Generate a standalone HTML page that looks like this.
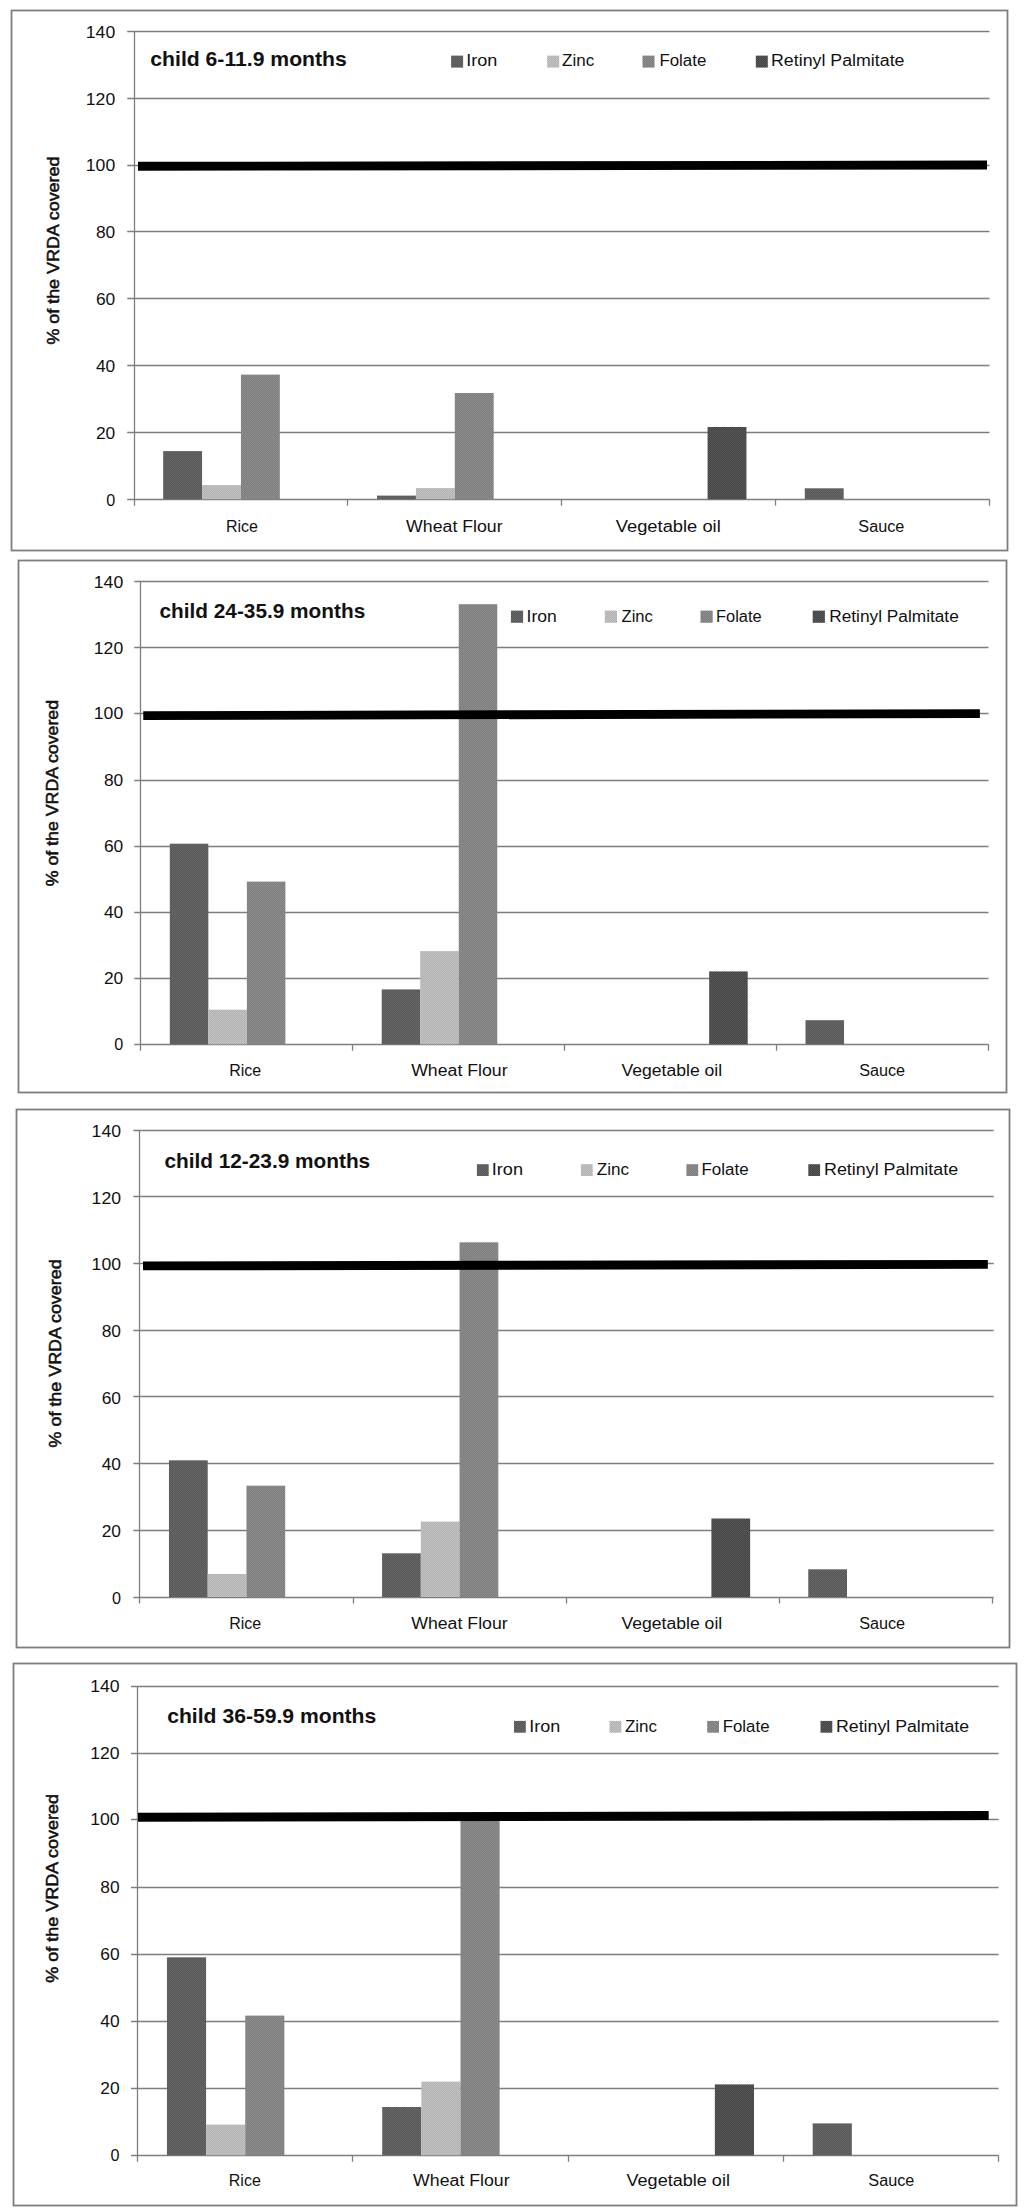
<!DOCTYPE html>
<html lang="en"><head><meta charset="utf-8"><title>% of the VRDA covered by fortified foods</title>
<style>
html,body{margin:0;padding:0;background:#fff}
body{width:1024px;height:2212px;overflow:hidden}
svg{display:block}
text{font-family:"Liberation Sans",sans-serif;fill:#111}
.r{font-size:15.8px}
.n{font-size:16px}
.t{font-size:19.8px;font-weight:bold}
.a{font-size:17px;stroke:#111;stroke-width:0.55px}
.g{stroke:#7e7e7e;stroke-width:1.3;fill:none}
.fr{stroke:#7e7e7e;stroke-width:1.8;fill:#fff}
</style></head><body>
<svg width="1024" height="2212" viewBox="0 0 1024 2212">
<rect x="0" y="0" width="1024" height="2212" fill="#fff"/>
<defs>
<pattern id="p-iron" width="2" height="2" patternUnits="userSpaceOnUse"><rect width="2" height="2" fill="#585858"/><rect x="0" y="0" width="1" height="1" fill="#666666"/><rect x="1" y="1" width="1" height="1" fill="#666666"/></pattern>
<pattern id="p-zinc" width="2" height="2" patternUnits="userSpaceOnUse"><rect width="2" height="2" fill="#b1b1b1"/><rect x="0" y="0" width="1" height="1" fill="#c3c3c3"/><rect x="1" y="1" width="1" height="1" fill="#c3c3c3"/></pattern>
<pattern id="p-folate" width="2" height="2" patternUnits="userSpaceOnUse"><rect width="2" height="2" fill="#7e7e7e"/><rect x="0" y="0" width="1" height="1" fill="#8c8c8c"/><rect x="1" y="1" width="1" height="1" fill="#8c8c8c"/></pattern>
<pattern id="p-rp" width="2" height="2" patternUnits="userSpaceOnUse"><rect width="2" height="2" fill="#434343"/><rect x="0" y="0" width="1" height="1" fill="#585858"/><rect x="1" y="1" width="1" height="1" fill="#585858"/></pattern>
</defs>
<g id="chart1">
<rect class="fr" x="11.5" y="10.5" width="996" height="540"/>
<line class="g" x1="127.2" y1="499.5" x2="989.5" y2="499.5"/>
<text class="n" x="115.2" y="505.5" text-anchor="end" textLength="9" lengthAdjust="spacingAndGlyphs">0</text>
<line class="g" x1="127.2" y1="432.5" x2="989.5" y2="432.5"/>
<text class="n" x="115.2" y="438.67" text-anchor="end" textLength="19.3" lengthAdjust="spacingAndGlyphs">20</text>
<line class="g" x1="127.2" y1="365.5" x2="989.5" y2="365.5"/>
<text class="n" x="115.2" y="371.84" text-anchor="end" textLength="19.3" lengthAdjust="spacingAndGlyphs">40</text>
<line class="g" x1="127.2" y1="298.5" x2="989.5" y2="298.5"/>
<text class="n" x="115.2" y="305.01" text-anchor="end" textLength="19.3" lengthAdjust="spacingAndGlyphs">60</text>
<line class="g" x1="127.2" y1="231.5" x2="989.5" y2="231.5"/>
<text class="n" x="115.2" y="238.19" text-anchor="end" textLength="19.3" lengthAdjust="spacingAndGlyphs">80</text>
<line class="g" x1="127.2" y1="165.5" x2="989.5" y2="165.5"/>
<text class="n" x="115.2" y="171.36" text-anchor="end" textLength="29.4" lengthAdjust="spacingAndGlyphs">100</text>
<line class="g" x1="127.2" y1="98.5" x2="989.5" y2="98.5"/>
<text class="n" x="115.2" y="104.53" text-anchor="end" textLength="29.4" lengthAdjust="spacingAndGlyphs">120</text>
<line class="g" x1="127.2" y1="31.5" x2="989.5" y2="31.5"/>
<text class="n" x="115.2" y="37.7" text-anchor="end" textLength="29.4" lengthAdjust="spacingAndGlyphs">140</text>
<line class="g" x1="134.5" y1="31.4" x2="134.5" y2="505.7"/>
<line class="g" x1="347.5" y1="499.2" x2="347.5" y2="505.7"/>
<line class="g" x1="561.5" y1="499.2" x2="561.5" y2="505.7"/>
<line class="g" x1="775.5" y1="499.2" x2="775.5" y2="505.7"/>
<line class="g" x1="989.5" y1="499.2" x2="989.5" y2="505.7"/>
<rect x="163.16" y="451.1" width="38.89" height="48.1" fill="url(#p-iron)"/>
<rect x="202.05" y="485.1" width="38.89" height="14.1" fill="url(#p-zinc)"/>
<rect x="240.94" y="374.6" width="38.89" height="124.6" fill="url(#p-folate)"/>
<rect x="377.04" y="495.6" width="38.89" height="3.6" fill="url(#p-iron)"/>
<rect x="415.93" y="488.1" width="38.89" height="11.1" fill="url(#p-zinc)"/>
<rect x="454.81" y="393" width="38.89" height="106.2" fill="url(#p-folate)"/>
<rect x="707.57" y="427" width="38.89" height="72.2" fill="url(#p-rp)"/>
<rect x="804.79" y="488.3" width="38.89" height="10.9" fill="url(#p-iron)"/>
<line x1="138" y1="166.3" x2="987" y2="165" stroke="#000" stroke-width="8.9"/>
<text class="t" x="150.3" y="66" textLength="196.5" lengthAdjust="spacingAndGlyphs">child 6-11.9 months</text>
<rect x="451.1" y="55.6" width="12" height="12" fill="url(#p-iron)"/>
<text class="r" x="466.2" y="66.4" textLength="31.11" lengthAdjust="spacingAndGlyphs">Iron</text>
<rect x="547.2" y="55.6" width="12" height="12" fill="url(#p-zinc)"/>
<text class="r" x="562" y="66.4" textLength="32.14" lengthAdjust="spacingAndGlyphs">Zinc</text>
<rect x="642.5" y="55.6" width="12" height="12" fill="url(#p-folate)"/>
<text class="r" x="659.4" y="66.4" textLength="46.97" lengthAdjust="spacingAndGlyphs">Folate</text>
<rect x="755.8" y="55.6" width="12" height="12" fill="url(#p-rp)"/>
<text class="r" x="771" y="66.4" textLength="133.49" lengthAdjust="spacingAndGlyphs">Retinyl Palmitate</text>
<text class="r" x="225.94" y="531.5" textLength="32" lengthAdjust="spacingAndGlyphs">Rice</text>
<text class="r" x="406.11" y="531.5" textLength="96.5" lengthAdjust="spacingAndGlyphs">Wheat Flour</text>
<text class="r" x="615.74" y="531.5" textLength="105" lengthAdjust="spacingAndGlyphs">Vegetable oil</text>
<text class="r" x="858.36" y="531.5" textLength="46" lengthAdjust="spacingAndGlyphs">Sauce</text>
<text class="a" transform="translate(59 344.6) rotate(-90)" x="0" y="0" textLength="188" lengthAdjust="spacingAndGlyphs">% of the VRDA covered</text>
</g>
<g id="chart2">
<rect class="fr" x="18.5" y="560.5" width="988" height="532"/>
<line class="g" x1="134.3" y1="1044.5" x2="988.5" y2="1044.5"/>
<text class="n" x="123.2" y="1050.1" text-anchor="end" textLength="9" lengthAdjust="spacingAndGlyphs">0</text>
<line class="g" x1="134.3" y1="978.5" x2="988.5" y2="978.5"/>
<text class="n" x="123.2" y="984.03" text-anchor="end" textLength="19.3" lengthAdjust="spacingAndGlyphs">20</text>
<line class="g" x1="134.3" y1="912.5" x2="988.5" y2="912.5"/>
<text class="n" x="123.2" y="917.96" text-anchor="end" textLength="19.3" lengthAdjust="spacingAndGlyphs">40</text>
<line class="g" x1="134.3" y1="846.5" x2="988.5" y2="846.5"/>
<text class="n" x="123.2" y="851.89" text-anchor="end" textLength="19.3" lengthAdjust="spacingAndGlyphs">60</text>
<line class="g" x1="134.3" y1="780.5" x2="988.5" y2="780.5"/>
<text class="n" x="123.2" y="785.81" text-anchor="end" textLength="19.3" lengthAdjust="spacingAndGlyphs">80</text>
<line class="g" x1="134.3" y1="713.5" x2="988.5" y2="713.5"/>
<text class="n" x="123.2" y="718.8" text-anchor="end" textLength="29.4" lengthAdjust="spacingAndGlyphs">100</text>
<line class="g" x1="134.3" y1="647.5" x2="988.5" y2="647.5"/>
<text class="n" x="123.2" y="653.67" text-anchor="end" textLength="29.4" lengthAdjust="spacingAndGlyphs">120</text>
<line class="g" x1="134.3" y1="581.5" x2="988.5" y2="581.5"/>
<text class="n" x="123.2" y="587.6" text-anchor="end" textLength="29.4" lengthAdjust="spacingAndGlyphs">140</text>
<line class="g" x1="140.5" y1="581.8" x2="140.5" y2="1050.8"/>
<line class="g" x1="352.5" y1="1044.3" x2="352.5" y2="1050.8"/>
<line class="g" x1="564.5" y1="1044.3" x2="564.5" y2="1050.8"/>
<line class="g" x1="776.5" y1="1044.3" x2="776.5" y2="1050.8"/>
<line class="g" x1="988.5" y1="1044.3" x2="988.5" y2="1050.8"/>
<rect x="169.8" y="843.7" width="38.53" height="200.6" fill="url(#p-iron)"/>
<rect x="208.32" y="1009.7" width="38.53" height="34.6" fill="url(#p-zinc)"/>
<rect x="246.85" y="881.6" width="38.53" height="162.7" fill="url(#p-folate)"/>
<rect x="381.7" y="989.4" width="38.53" height="54.9" fill="url(#p-iron)"/>
<rect x="420.22" y="951.1" width="38.53" height="93.2" fill="url(#p-zinc)"/>
<rect x="458.75" y="604.2" width="38.53" height="440.1" fill="url(#p-folate)"/>
<rect x="709.18" y="971.4" width="38.53" height="72.9" fill="url(#p-rp)"/>
<rect x="805.5" y="1020.2" width="38.53" height="24.1" fill="url(#p-iron)"/>
<line x1="143.25" y1="715.6" x2="979.9" y2="713.6" stroke="#000" stroke-width="8.8"/>
<text class="t" x="159.5" y="617.9" textLength="205.7" lengthAdjust="spacingAndGlyphs">child 24-35.9 months</text>
<rect x="510.9" y="610.6" width="12.2" height="12.2" fill="url(#p-iron)"/>
<text class="r" x="526.6" y="622.2" textLength="30.2" lengthAdjust="spacingAndGlyphs">Iron</text>
<rect x="604.8" y="610.6" width="12.2" height="12.2" fill="url(#p-zinc)"/>
<text class="r" x="621.6" y="622.2" textLength="31.2" lengthAdjust="spacingAndGlyphs">Zinc</text>
<rect x="700.5" y="610.6" width="12.2" height="12.2" fill="url(#p-folate)"/>
<text class="r" x="716" y="622.2" textLength="45.6" lengthAdjust="spacingAndGlyphs">Folate</text>
<rect x="812.7" y="610.6" width="12.2" height="12.2" fill="url(#p-rp)"/>
<text class="r" x="829.2" y="622.2" textLength="129.6" lengthAdjust="spacingAndGlyphs">Retinyl Palmitate</text>
<text class="r" x="229.2" y="1076.25" textLength="32" lengthAdjust="spacingAndGlyphs">Rice</text>
<text class="r" x="411.15" y="1076.25" textLength="96.5" lengthAdjust="spacingAndGlyphs">Wheat Flour</text>
<text class="r" x="621.4" y="1076.25" textLength="100.8" lengthAdjust="spacingAndGlyphs">Vegetable oil</text>
<text class="r" x="859.15" y="1076.25" textLength="46" lengthAdjust="spacingAndGlyphs">Sauce</text>
<text class="a" transform="translate(58.4 886.3) rotate(-90)" x="0" y="0" textLength="186.4" lengthAdjust="spacingAndGlyphs">% of the VRDA covered</text>
</g>
<g id="chart3">
<rect class="fr" x="16.5" y="1109.5" width="993" height="538"/>
<line class="g" x1="133.4" y1="1597.5" x2="993.7" y2="1597.5"/>
<text class="n" x="121" y="1603.6" text-anchor="end" textLength="9" lengthAdjust="spacingAndGlyphs">0</text>
<line class="g" x1="133.4" y1="1530.5" x2="993.7" y2="1530.5"/>
<text class="n" x="121" y="1536.93" text-anchor="end" textLength="19.3" lengthAdjust="spacingAndGlyphs">20</text>
<line class="g" x1="133.4" y1="1463.5" x2="993.7" y2="1463.5"/>
<text class="n" x="121" y="1470.26" text-anchor="end" textLength="19.3" lengthAdjust="spacingAndGlyphs">40</text>
<line class="g" x1="133.4" y1="1396.5" x2="993.7" y2="1396.5"/>
<text class="n" x="121" y="1403.59" text-anchor="end" textLength="19.3" lengthAdjust="spacingAndGlyphs">60</text>
<line class="g" x1="133.4" y1="1330.5" x2="993.7" y2="1330.5"/>
<text class="n" x="121" y="1336.91" text-anchor="end" textLength="19.3" lengthAdjust="spacingAndGlyphs">80</text>
<line class="g" x1="133.4" y1="1263.5" x2="993.7" y2="1263.5"/>
<text class="n" x="121" y="1270.24" text-anchor="end" textLength="29.4" lengthAdjust="spacingAndGlyphs">100</text>
<line class="g" x1="133.4" y1="1196.5" x2="993.7" y2="1196.5"/>
<text class="n" x="121" y="1203.57" text-anchor="end" textLength="29.4" lengthAdjust="spacingAndGlyphs">120</text>
<line class="g" x1="133.4" y1="1130.5" x2="993.7" y2="1130.5"/>
<text class="n" x="121" y="1136.9" text-anchor="end" textLength="29.4" lengthAdjust="spacingAndGlyphs">140</text>
<line class="g" x1="139.5" y1="1130.3" x2="139.5" y2="1603.5"/>
<line class="g" x1="353.5" y1="1597" x2="353.5" y2="1603.5"/>
<line class="g" x1="566.5" y1="1597" x2="566.5" y2="1603.5"/>
<line class="g" x1="779.5" y1="1597" x2="779.5" y2="1603.5"/>
<line class="g" x1="992.5" y1="1597" x2="992.5" y2="1603.5"/>
<rect x="168.96" y="1460.3" width="38.75" height="136.7" fill="url(#p-iron)"/>
<rect x="207.7" y="1574" width="38.75" height="23" fill="url(#p-zinc)"/>
<rect x="246.45" y="1485.7" width="38.75" height="111.3" fill="url(#p-folate)"/>
<rect x="382.06" y="1553.3" width="38.75" height="43.7" fill="url(#p-iron)"/>
<rect x="420.8" y="1521.6" width="38.75" height="75.4" fill="url(#p-zinc)"/>
<rect x="459.55" y="1242.3" width="38.75" height="354.7" fill="url(#p-folate)"/>
<rect x="711.4" y="1518.5" width="38.75" height="78.5" fill="url(#p-rp)"/>
<rect x="808.26" y="1569.3" width="38.75" height="27.7" fill="url(#p-iron)"/>
<line x1="143" y1="1265.9" x2="987.8" y2="1264.35" stroke="#000" stroke-width="8.9"/>
<text class="t" x="164.4" y="1167.9" textLength="205.8" lengthAdjust="spacingAndGlyphs">child 12-23.9 months</text>
<rect x="476.9" y="1164.2" width="11.8" height="11.8" fill="url(#p-iron)"/>
<text class="r" x="491.8" y="1175.3" textLength="31.26" lengthAdjust="spacingAndGlyphs">Iron</text>
<rect x="580.9" y="1164.2" width="11.8" height="11.8" fill="url(#p-zinc)"/>
<text class="r" x="596.8" y="1175.3" textLength="32.29" lengthAdjust="spacingAndGlyphs">Zinc</text>
<rect x="686.4" y="1164.2" width="11.8" height="11.8" fill="url(#p-folate)"/>
<text class="r" x="701.4" y="1175.3" textLength="47.2" lengthAdjust="spacingAndGlyphs">Folate</text>
<rect x="808.3" y="1164.2" width="11.8" height="11.8" fill="url(#p-rp)"/>
<text class="r" x="824" y="1175.3" textLength="134.14" lengthAdjust="spacingAndGlyphs">Retinyl Palmitate</text>
<text class="r" x="229.2" y="1628.75" textLength="32" lengthAdjust="spacingAndGlyphs">Rice</text>
<text class="r" x="411.2" y="1628.75" textLength="96.5" lengthAdjust="spacingAndGlyphs">Wheat Flour</text>
<text class="r" x="621.45" y="1628.75" textLength="100.8" lengthAdjust="spacingAndGlyphs">Vegetable oil</text>
<text class="r" x="859.15" y="1628.75" textLength="46" lengthAdjust="spacingAndGlyphs">Sauce</text>
<text class="a" transform="translate(61.2 1447.4) rotate(-90)" x="0" y="0" textLength="188" lengthAdjust="spacingAndGlyphs">% of the VRDA covered</text>
</g>
<g id="chart4">
<rect class="fr" x="13.5" y="1663.5" width="1003" height="542"/>
<line class="g" x1="131" y1="2155.5" x2="998.6" y2="2155.5"/>
<text class="n" x="119.6" y="2160.75" text-anchor="end" textLength="9" lengthAdjust="spacingAndGlyphs">0</text>
<line class="g" x1="131" y1="2088.5" x2="998.6" y2="2088.5"/>
<text class="n" x="119.6" y="2093.73" text-anchor="end" textLength="19.3" lengthAdjust="spacingAndGlyphs">20</text>
<line class="g" x1="131" y1="2021.5" x2="998.6" y2="2021.5"/>
<text class="n" x="119.6" y="2026.71" text-anchor="end" textLength="19.3" lengthAdjust="spacingAndGlyphs">40</text>
<line class="g" x1="131" y1="1954.5" x2="998.6" y2="1954.5"/>
<text class="n" x="119.6" y="1959.69" text-anchor="end" textLength="19.3" lengthAdjust="spacingAndGlyphs">60</text>
<line class="g" x1="131" y1="1887.5" x2="998.6" y2="1887.5"/>
<text class="n" x="119.6" y="1892.66" text-anchor="end" textLength="19.3" lengthAdjust="spacingAndGlyphs">80</text>
<line class="g" x1="131" y1="1819.5" x2="998.6" y2="1819.5"/>
<text class="n" x="119.6" y="1824.7" text-anchor="end" textLength="29.4" lengthAdjust="spacingAndGlyphs">100</text>
<line class="g" x1="131" y1="1753.5" x2="998.6" y2="1753.5"/>
<text class="n" x="119.6" y="1758.62" text-anchor="end" textLength="29.4" lengthAdjust="spacingAndGlyphs">120</text>
<line class="g" x1="131" y1="1686.5" x2="998.6" y2="1686.5"/>
<text class="n" x="119.6" y="1691.6" text-anchor="end" textLength="29.4" lengthAdjust="spacingAndGlyphs">140</text>
<line class="g" x1="137.5" y1="1686.1" x2="137.5" y2="2161.75"/>
<line class="g" x1="352.5" y1="2155.25" x2="352.5" y2="2161.75"/>
<line class="g" x1="568.5" y1="2155.25" x2="568.5" y2="2161.75"/>
<line class="g" x1="783.5" y1="2155.25" x2="783.5" y2="2161.75"/>
<line class="g" x1="998.5" y1="2155.25" x2="998.5" y2="2161.75"/>
<rect x="166.95" y="1957.3" width="39.14" height="197.95" fill="url(#p-iron)"/>
<rect x="206.09" y="2124.6" width="39.14" height="30.65" fill="url(#p-zinc)"/>
<rect x="245.22" y="2015.6" width="39.14" height="139.65" fill="url(#p-folate)"/>
<rect x="382.2" y="2107" width="39.14" height="48.25" fill="url(#p-iron)"/>
<rect x="421.34" y="2081.6" width="39.14" height="73.65" fill="url(#p-zinc)"/>
<rect x="460.48" y="1816" width="39.14" height="339.25" fill="url(#p-folate)"/>
<rect x="714.86" y="2084.4" width="39.14" height="70.85" fill="url(#p-rp)"/>
<rect x="812.7" y="2123.4" width="39.14" height="31.85" fill="url(#p-iron)"/>
<line x1="138" y1="1817.25" x2="988.7" y2="1815.45" stroke="#000" stroke-width="8.9"/>
<text class="t" x="167.2" y="1722.5" textLength="209.1" lengthAdjust="spacingAndGlyphs">child 36-59.9 months</text>
<rect x="514" y="1720.9" width="11.8" height="11.8" fill="url(#p-iron)"/>
<text class="r" x="529.3" y="1732.2" textLength="31.02" lengthAdjust="spacingAndGlyphs">Iron</text>
<rect x="609.5" y="1720.9" width="11.8" height="11.8" fill="url(#p-zinc)"/>
<text class="r" x="624.9" y="1732.2" textLength="32.04" lengthAdjust="spacingAndGlyphs">Zinc</text>
<rect x="707.2" y="1720.9" width="11.8" height="11.8" fill="url(#p-folate)"/>
<text class="r" x="722.7" y="1732.2" textLength="46.83" lengthAdjust="spacingAndGlyphs">Folate</text>
<rect x="820.5" y="1720.9" width="11.8" height="11.8" fill="url(#p-rp)"/>
<text class="r" x="836" y="1732.2" textLength="133.1" lengthAdjust="spacingAndGlyphs">Retinyl Palmitate</text>
<text class="r" x="228.82" y="2185.75" textLength="32" lengthAdjust="spacingAndGlyphs">Rice</text>
<text class="r" x="413.12" y="2185.75" textLength="96.5" lengthAdjust="spacingAndGlyphs">Wheat Flour</text>
<text class="r" x="626.52" y="2185.75" textLength="103.4" lengthAdjust="spacingAndGlyphs">Vegetable oil</text>
<text class="r" x="868.38" y="2185.75" textLength="46" lengthAdjust="spacingAndGlyphs">Sauce</text>
<text class="a" transform="translate(58.4 1982.7) rotate(-90)" x="0" y="0" textLength="188.7" lengthAdjust="spacingAndGlyphs">% of the VRDA covered</text>
</g>
</svg>
</body></html>
